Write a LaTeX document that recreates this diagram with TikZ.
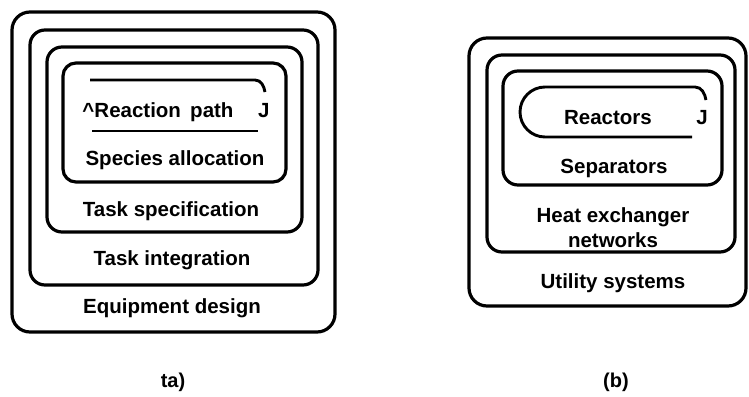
\documentclass[tikz,border=0pt]{standalone}
\usepackage{fontspec}
\setmainfont{Liberation Sans}
\begin{document}
\begin{tikzpicture}[x=1pt,y=-1pt,
  frame/.style={line width=3.2pt,rounded corners=#1},
  frame/.default=15pt,
  lbl/.style={font=\bfseries\fontsize{20.5}{23}\selectfont,inner sep=0pt,anchor=center},
  captxt/.style={font=\bfseries\fontsize{20}{22}\selectfont,inner sep=0pt}]
\useasboundingbox (0,0) rectangle (749,396);
% (a)
\draw[frame=18pt] (12,12) rectangle (335,332);
\draw[frame] (30,30) rectangle (318,285);
\draw[frame] (47,47) rectangle (302,232);
\draw[frame=13pt] (63,63) rectangle (286,182);
\draw[line width=2.9pt] (90,80) -- (255,80) to[out=0,in=100] (265,92);
\draw[line width=2.9pt] (92,131) -- (258,131);
\node[lbl] (rp) at (176,112) {\^{}Reaction\hspace{0.45em}path\hspace{1.2em}J};
\node[lbl] (sa) at (175,160) {Species allocation};
\node[lbl] (ts) at (171,211) {Task specification};
\node[lbl] (ti) at (172,260) {Task integration};
\node[lbl] (ed) at (172,308) {Equipment design};
% (b)
\draw[frame=18pt] (469,38) rectangle (746,306);
\draw[frame] (487,55) rectangle (735,252);
\draw[frame] (503,71) rectangle (722,185);
\draw[line width=2.9pt] (692,137) -- (545,137) arc[start angle=90,end angle=270,radius=25]
  -- (695,87) to[out=0,in=100] (706,100);
\node[lbl] (re) at (608,118) {Reactors};
\node[lbl] (rj) at (702,118) {J};
\node[lbl] (se) at (614,168) {Separators};
\node[lbl] (hx) at (613,217) {Heat exchanger};
\node[lbl] (nw) at (613,240) {networks};
\node[lbl] (us) at (613,283) {Utility systems};
% captions
\node[captxt] (ca) at (173,382) {ta)};
\node[captxt] (cb) at (616,382) {(b)};
\end{tikzpicture}
\end{document}
